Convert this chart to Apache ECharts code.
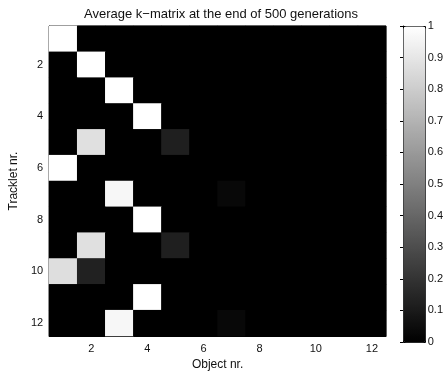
<!DOCTYPE html>
<html>
<head>
<meta charset="utf-8">
<script src="https://cdn.jsdelivr.net/npm/echarts@6/dist/echarts.min.js"></script>
<style>
  html, body { margin: 0; padding: 0; background: #fff; }
  #main { width: 446px; height: 376px; }
</style>
</head>
<body>
<div id="main"></div>
<script>
var objects = ['1', '2', '3', '4', '5', '6', '7', '8', '9', '10', '11', '12'];
var tracklets = ['1', '2', '3', '4', '5', '6', '7', '8', '9', '10', '11', '12'];
// one row per tracklet, one column per object
var kMatrix = [
  [1, 0, 0, 0, 0, 0, 0, 0, 0, 0, 0, 0],
  [0, 1, 0, 0, 0, 0, 0, 0, 0, 0, 0, 0],
  [0, 0, 1, 0, 0, 0, 0, 0, 0, 0, 0, 0],
  [0, 0, 0, 1, 0, 0, 0, 0, 0, 0, 0, 0],
  [0, 0.88, 0, 0, 0.12, 0, 0, 0, 0, 0, 0, 0],
  [1, 0, 0, 0, 0, 0, 0, 0, 0, 0, 0, 0],
  [0, 0, 0.97, 0, 0, 0, 0.03, 0, 0, 0, 0, 0],
  [0, 0, 0, 1, 0, 0, 0, 0, 0, 0, 0, 0],
  [0, 0.88, 0, 0, 0.12, 0, 0, 0, 0, 0, 0, 0],
  [0.87, 0.13, 0, 0, 0, 0, 0, 0, 0, 0, 0, 0],
  [0, 0, 0, 1, 0, 0, 0, 0, 0, 0, 0, 0],
  [0, 0, 0.97, 0, 0, 0, 0.03, 0, 0, 0, 0, 0]
];
var colorbarTicks = [0, 1];

var heatData = [];
for (var r = 0; r < kMatrix.length; r++) {
  for (var c = 0; c < kMatrix[r].length; c++) {
    heatData.push([c, r, kMatrix[r][c]]);
  }
}

var font = 'Liberation Sans';
var evenOnly = function (index) { return index % 2 === 1; };

var myChart = echarts.init(document.getElementById('main'));
var option = {
  animation: false,
  backgroundColor: '#fff',
  textStyle: { fontFamily: font },
  title: {
    text: 'Average k\u2212matrix at the end of 500 generations',
    left: 216,
    textAlign: 'center',
    top: 3,
    textStyle: { fontFamily: font, fontSize: 13, fontWeight: 'normal', color: '#111' }
  },
  grid: [
    { left: 46, top: 26, width: 340, height: 316, show: true, borderColor: '#000', borderWidth: 1, backgroundColor: '#000' },
    { left: 403, top: 26, width: 22, height: 316, show: false }
  ],
  xAxis: [{
    gridIndex: 0,
    type: 'category',
    data: objects,
    name: 'Object nr.',
    nameLocation: 'middle',
    nameGap: 23,
    nameTextStyle: { fontFamily: font, fontSize: 12, color: '#111' },
    axisLine: { lineStyle: { color: '#000' } },
    axisTick: { inside: true, length: 3, alignWithLabel: true, interval: evenOnly, lineStyle: { color: '#000' } },
    axisLabel: { interval: evenOnly, fontSize: 11, color: '#111', margin: 7 },
    splitLine: { show: false }
  }, {
    gridIndex: 1,
    type: 'value',
    show: false
  }],
  yAxis: [{
    gridIndex: 0,
    type: 'category',
    data: tracklets,
    inverse: true,
    name: 'Tracklet nr.',
    nameLocation: 'middle',
    nameGap: 27,
    nameTextStyle: { fontFamily: font, fontSize: 12, color: '#111' },
    axisLine: { lineStyle: { color: '#000' } },
    axisTick: { inside: false, length: 3, alignWithLabel: true, interval: evenOnly, lineStyle: { color: '#000' } },
    axisLabel: { interval: evenOnly, fontSize: 11, color: '#111', margin: 6 },
    splitLine: { show: false }
  }, {
    gridIndex: 1,
    type: 'value',
    position: 'right',
    min: colorbarTicks[0],
    max: colorbarTicks[1],
    interval: 0.1,
    axisLine: { show: true, lineStyle: { color: '#000' } },
    axisTick: { show: true, inside: true, length: 3, lineStyle: { color: '#000' } },
    axisLabel: { fontSize: 11, color: '#111', margin: 4 },
    splitLine: { show: false }
  }],
  visualMap: {
    type: 'continuous',
    seriesIndex: 0,
    min: colorbarTicks[0],
    max: colorbarTicks[1],
    calculable: false,
    realtime: false,
    left: 403,
    top: 26,
    itemWidth: 22,
    itemHeight: 316,
    padding: 0,
    text: null,
    showLabel: false,
    borderColor: '#000',
    borderWidth: 1,
    inRange: { color: ['#000000', '#ffffff'] }
  },
  series: [{
    type: 'heatmap',
    xAxisIndex: 0,
    yAxisIndex: 0,
    data: heatData,
    itemStyle: { borderWidth: 0 },
    emphasis: { disabled: true },
    progressive: 0
  }]
};
myChart.setOption(option);
</script>
</body>
</html>
